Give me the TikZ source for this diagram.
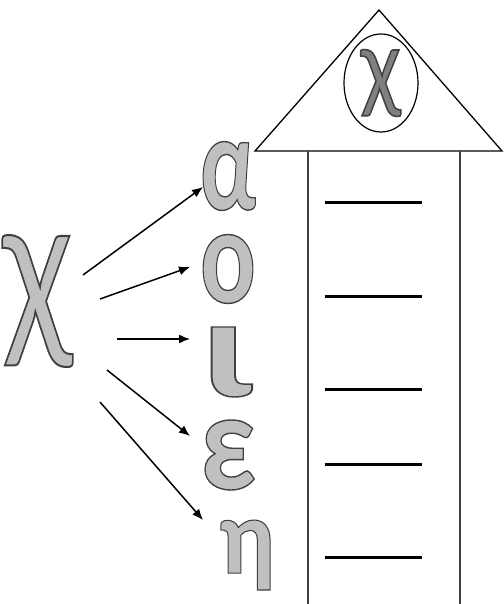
\documentclass[tikz,border=0pt]{standalone}
\usepackage{fontspec}
\usepackage{graphicx}
\newfontfamily\lettersfont{Carlito}
\usepackage{tikz}
\usetikzlibrary{shapes.geometric, arrows.meta}
\definecolor{lettergray}{HTML}{C0C0C0}
\definecolor{badgegray}{HTML}{808080}
\definecolor{edgegray}{HTML}{404040}
% outlined glyph squeezed into a box of given width and height
\newcommand{\outlined}[3]{\resizebox*{#1}{#2}{\special{pdf:literal direct 2 Tr 1.4 w 0.25 0.25 0.25 RG}#3\special{pdf:literal direct 0 Tr}}}
\tikzset{
    letter/.style = {
        inner sep=0pt, text=lettergray,
        font=\lettersfont\bfseries\fontsize{140}{140}\selectfont
    },
    thinletter/.style = {
        inner sep=0pt, text=lettergray,
        font=\lettersfont\fontsize{140}{140}\selectfont
    },
    badge/.style = {
        ellipse, draw, line width=1.2pt,
        minimum width=74pt,
        minimum height=98pt,
        inner sep=0pt, text=badgegray,
        font=\lettersfont\fontsize{90}{90}\selectfont
    },
    wall/.style = {
        line width=1.4pt, draw=edgegray
    },
    blank/.style = {
        line width=3pt
    },
    arrow/.style = {
        -{Latex[length=11pt, width=9pt]}, line width=1.5pt
    }
}
\begin{document}
\begin{tikzpicture}[x=1pt, y=-1pt]
\useasboundingbox (0,0) rectangle (503,604);

% house
\draw [line width=1.3pt] (255,151) -- (379,10) -- (502,151) -- cycle;
\draw [wall] (308,151) -- (308,604);
\draw [wall] (460,151) -- (460,604);
\node (badge) [badge] at (381,83) {\outlined{40pt}{67pt}{χ}};

\draw [blank] (325,202) -- (422,202);
\draw [blank] (325,296) -- (422,296);
\draw [blank] (325,389) -- (422,389);
\draw [blank] (325,464) -- (422,464);
\draw [blank] (325,557) -- (422,557);

% letters
\node (chi) [thinletter] at (38,301) {\outlined{70pt}{132pt}{χ}};
\node (alpha) [letter] at (228,176) {\outlined{56pt}{69pt}{α}};
\node (omicron) [letter] at (228,269) {\outlined{56pt}{69pt}{ο}};
\node (iota) [letter] at (227,362) {\outlined{54pt}{70pt}{ι}};
\node (epsilon) [letter] at (228,455) {\outlined{56pt}{70pt}{ε}};
\node (eta) [letter] at (247,555) {\outlined{56pt}{70pt}{η}};

\draw [arrow] ([shift={(45,-26)}]chi.center) -- ([shift={(-25,11)}]alpha.center);
\draw [arrow] ([shift={(62,-2)}]chi.center) -- ([shift={(-38,-2)}]omicron.center);
\draw [arrow] ([shift={(79,38)}]chi.center) -- ([shift={(-37,-23)}]iota.center);
\draw [arrow] ([shift={(69,69)}]chi.center) -- ([shift={(-38,-19)}]epsilon.center);
\draw [arrow] ([shift={(62,101)}]chi.center) -- ([shift={(-44,-35)}]eta.center);

\end{tikzpicture}
\end{document}
